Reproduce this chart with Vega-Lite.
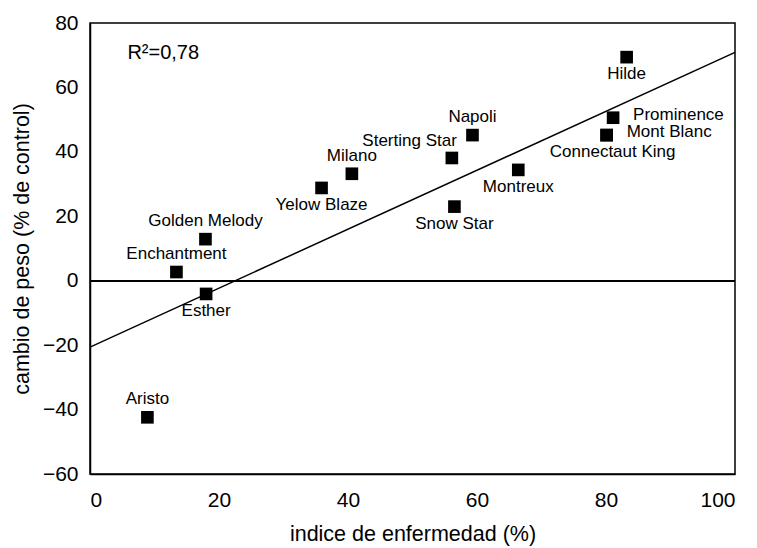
{
  "$schema": "https://vega.github.io/schema/vega-lite/v6.json",
  "width": 645,
  "height": 451,
  "autosize": {"type": "none"},
  "padding": {"left": 90, "top": 23, "right": 22, "bottom": 74},
  "background": "white",
  "config": {
    "view": {"stroke": "black", "strokeWidth": 1.5},
    "font": "Liberation Sans",
    "axis": {
      "grid": false,
      "ticks": false,
      "domainColor": "black",
      "domainWidth": 1.5,
      "labelColor": "black",
      "labelFont": "Liberation Sans",
      "labelFontSize": 21,
      "titleColor": "black",
      "titleFont": "Liberation Sans",
      "titleFontSize": 21.5,
      "titleFontWeight": "normal"
    }
  },
  "datasets": {
    "cultivares": [
      {"cultivar": "Aristo", "enfermedad": 8.9, "peso": -42.4},
      {"cultivar": "Enchantment", "enfermedad": 13.4, "peso": 2.7},
      {"cultivar": "Esther", "enfermedad": 18.0, "peso": -4.1},
      {"cultivar": "Golden Melody", "enfermedad": 17.9, "peso": 12.9},
      {"cultivar": "Yelow Blaze", "enfermedad": 35.9, "peso": 28.8},
      {"cultivar": "Milano", "enfermedad": 40.6, "peso": 33.2},
      {"cultivar": "Snow Star", "enfermedad": 56.5, "peso": 23.0},
      {"cultivar": "Sterting Star", "enfermedad": 56.1, "peso": 38.1},
      {"cultivar": "Napoli", "enfermedad": 59.3, "peso": 45.2},
      {"cultivar": "Montreux", "enfermedad": 66.4, "peso": 34.4},
      {"cultivar": "Connectaut King", "enfermedad": 80.1, "peso": 45.2},
      {"cultivar": "Mont Blanc", "enfermedad": 80.1, "peso": 45.2},
      {"cultivar": "Prominence", "enfermedad": 81.1, "peso": 50.6},
      {"cultivar": "Hilde", "enfermedad": 83.2, "peso": 69.4}
    ],
    "recta": [
      {"enfermedad": 0, "peso": -20.6},
      {"enfermedad": 100, "peso": 70.9}
    ],
    "marcasX": [
      {"enfermedad": 20}, {"enfermedad": 40}, {"enfermedad": 60}, {"enfermedad": 80}
    ],
    "marcasY": [
      {"peso": -40}, {"peso": -20}, {"peso": 20}, {"peso": 40}, {"peso": 60}
    ],
    "r2": [
      {"texto": "R²=0,78", "enfermedad": 5.8, "peso": 68.8}
    ]
  },
  "data": {"name": "cultivares"},
  "encoding": {
    "x": {
      "field": "enfermedad",
      "type": "quantitative",
      "scale": {"domain": [0, 100], "nice": false, "zero": false},
      "axis": {
        "values": [0, 20, 40, 60, 80, 100],
        "title": "indice de enfermedad (%)",
        "labelPadding": 15,
        "titleBaseline": "alphabetic",
        "titleY": 66
      }
    },
    "y": {
      "field": "peso",
      "type": "quantitative",
      "scale": {"domain": [-60, 80], "nice": false, "zero": false},
      "axis": {
        "values": [-60, -40, -20, 0, 20, 40, 60, 80],
        "title": "cambio de peso (% de control)",
        "labelPadding": 12,
        "titleBaseline": "middle",
        "titleX": -68
      }
    }
  },
  "layer": [
    {
      "data": {"name": "marcasX"},
      "mark": {"type": "tick", "orient": "vertical", "size": 36, "thickness": 1.5, "color": "black", "opacity": 1, "clip": true},
      "encoding": {"y": {"datum": -60, "type": "quantitative"}}
    },
    {
      "data": {"name": "marcasY"},
      "mark": {"type": "tick", "orient": "horizontal", "size": 36, "thickness": 1.5, "color": "black", "opacity": 1, "clip": true},
      "encoding": {"x": {"datum": 0, "type": "quantitative"}}
    },
    {
      "mark": {"type": "point", "shape": "square", "filled": true, "color": "black", "size": 160, "opacity": 1}
    },
    {
      "mark": {"type": "rule", "color": "black", "strokeWidth": 1.5},
      "encoding": {"x": null, "y": {"datum": 0, "type": "quantitative"}}
    },
    {
      "data": {"name": "recta"},
      "mark": {"type": "line", "color": "black", "strokeWidth": 1.5}
    },
    {
      "transform": [{"filter": {"field": "cultivar", "oneOf": ["Aristo", "Enchantment", "Golden Melody", "Milano", "Napoli"]}}],
      "mark": {"type": "text", "font": "Liberation Sans", "fontSize": 17, "color": "black", "baseline": "middle", "align": "center", "dy": -18},
      "encoding": {"text": {"field": "cultivar"}}
    },
    {
      "transform": [{"filter": {"field": "cultivar", "oneOf": ["Esther", "Yelow Blaze", "Snow Star", "Montreux", "Hilde"]}}],
      "mark": {"type": "text", "font": "Liberation Sans", "fontSize": 17, "color": "black", "baseline": "middle", "align": "center", "dy": 17},
      "encoding": {"text": {"field": "cultivar"}}
    },
    {
      "transform": [{"filter": {"field": "cultivar", "oneOf": ["Connectaut King"]}}],
      "mark": {"type": "text", "font": "Liberation Sans", "fontSize": 17, "color": "black", "baseline": "middle", "align": "center", "dx": 6, "dy": 17},
      "encoding": {"text": {"field": "cultivar"}}
    },
    {
      "transform": [{"filter": {"field": "cultivar", "oneOf": ["Sterting Star"]}}],
      "mark": {"type": "text", "font": "Liberation Sans", "fontSize": 17, "color": "black", "baseline": "middle", "align": "right", "dx": 5, "dy": -17},
      "encoding": {"text": {"field": "cultivar"}}
    },
    {
      "transform": [{"filter": {"field": "cultivar", "oneOf": ["Prominence", "Mont Blanc"]}}],
      "mark": {"type": "text", "font": "Liberation Sans", "fontSize": 17, "color": "black", "baseline": "middle", "align": "left", "dx": 20, "dy": -3},
      "encoding": {"text": {"field": "cultivar"}}
    },
    {
      "data": {"name": "r2"},
      "mark": {"type": "text", "font": "Liberation Sans", "fontSize": 20, "color": "black", "baseline": "alphabetic", "align": "left"},
      "encoding": {"text": {"field": "texto"}}
    }
  ]
}
